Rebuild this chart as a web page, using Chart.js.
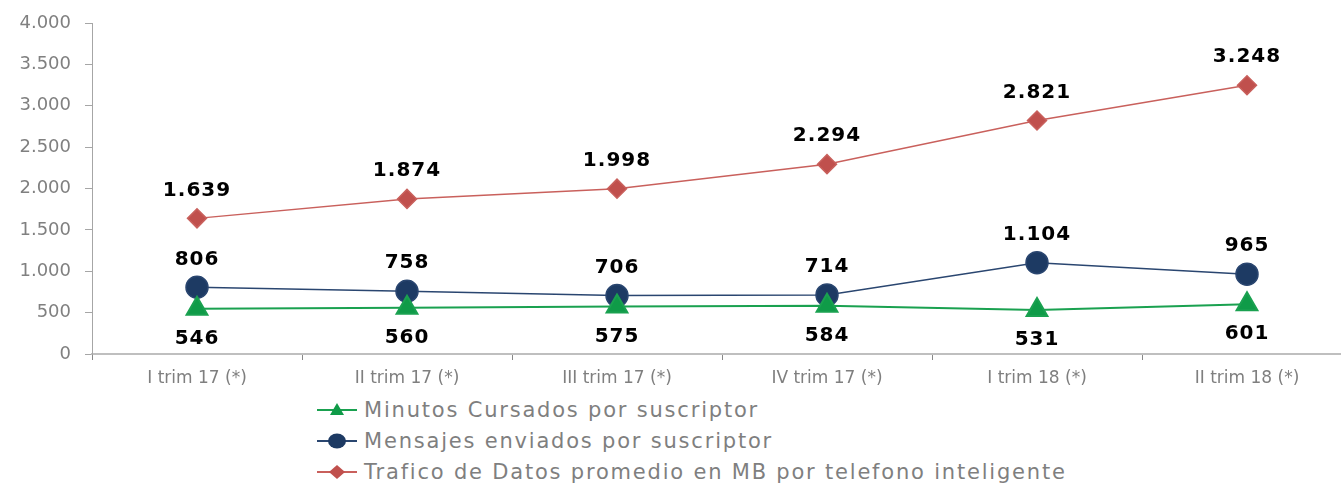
<!DOCTYPE html>
<html>
<head>
<meta charset="utf-8">
<script src="https://cdn.jsdelivr.net/npm/chart.js@4.4.1/dist/chart.umd.min.js"></script>
<style>
    html, body { margin: 0; padding: 0; background: #fff; overflow: hidden; }
    #wrap { position: relative; width: 1366px; height: 484px; }
    #lineChart { position: absolute; left: 0; top: 0; }
    #legend { position: absolute; left: 317px; top: 394px; font-family: "DejaVu Sans", sans-serif; font-size: 21px; letter-spacing: 1.8px; color: #7f7f7f; }
    #legend .item { display: flex; align-items: center; height: 31px; }
    #legend svg { margin-right: 5px; }
</style>
</head>
<body>
<div id="wrap">
    <canvas id="lineChart" width="1366" height="392"></canvas>
    <div id="legend"></div>
</div>
<script>
const categories = ['I trim 17 (*)', 'II trim 17 (*)', 'III trim 17 (*)', 'IV trim 17 (*)', 'I trim 18 (*)', 'II trim 18 (*)'];
const minutos = [546, 560, 575, 584, 531, 601];
const mensajes = [806, 758, 706, 714, 1104, 965];
const trafico = [1639, 1874, 1998, 2294, 2821, 3248];
const yTicks = [0, 500, 1000, 1500, 2000, 2500, 3000, 3500, 4000];

const seriesNames = [
    'Minutos Cursados por suscriptor',
    'Mensajes enviados por suscriptor',
    'Trafico de Datos promedio en MB por telefono inteligente'
];

function fmt(n) {
    return String(n).replace(/\B(?=(\d{3})+(?!\d))/g, '.');
}

// value labels: above or below each point
const valueLabels = {
    id: 'valueLabels',
    afterDatasetsDraw(chart) {
        const ctx = chart.ctx;
        ctx.save();
        ctx.font = 'bold 20px "DejaVu Sans", sans-serif';
        ctx.letterSpacing = '1px';
        ctx.fillStyle = '#000';
        ctx.textAlign = 'center';
        ctx.textBaseline = 'middle';
        chart.data.datasets.forEach((ds, i) => {
            const meta = chart.getDatasetMeta(i);
            meta.data.forEach((pt, j) => {
                const dy = ds.labelPos === 'below' ? 30 : -28;
                ctx.fillText(fmt(ds.data[j]), pt.x, pt.y + dy);
            });
        });
        ctx.restore();
    }
};

const ctx = document.getElementById('lineChart').getContext('2d');
new Chart(ctx, {
    type: 'line',
    data: {
        labels: categories,
        datasets: [
            {
                label: seriesNames[0],
                data: minutos,
                borderColor: '#1aa150',
                backgroundColor: '#0f9b48',
                borderWidth: 2,
                pointStyle: 'triangle',
                pointRadius: 12,
                labelPos: 'below'
            },
            {
                label: seriesNames[1],
                data: mensajes,
                borderColor: '#2a4670',
                backgroundColor: '#1d3a63',
                borderWidth: 1.5,
                pointStyle: 'circle',
                pointRadius: 11,
                labelPos: 'above'
            },
            {
                label: seriesNames[2],
                data: trafico,
                borderColor: '#c9605c',
                backgroundColor: '#c0504d',
                borderWidth: 1.5,
                pointStyle: 'rectRot',
                pointRadius: 9.5,
                labelPos: 'above'
            }
        ]
    },
    options: {
        responsive: false,
        animation: false,
        layout: { padding: { top: 17, right: 0, left: 0, bottom: 0 } },
        plugins: {
            legend: { display: false },
            tooltip: { enabled: false }
        },
        scales: {
            x: {
                offset: true,
                afterFit(scale) { scale.height = 38; },
                border: { color: '#bfbfbf', width: 2 },
                grid: { offset: true, drawOnChartArea: false, tickLength: 6, color: '#888' },
                ticks: {
                    color: '#7f7f7f',
                    padding: 8,
                    font: { family: '"DejaVu Sans", sans-serif', size: 17 }
                }
            },
            y: {
                min: 0,
                max: 4000,
                afterFit(scale) { scale.width = 92; },
                afterBuildTicks(scale) { scale.ticks = yTicks.map(v => ({ value: v })); },
                border: { color: '#a6a6a6', width: 1 },
                grid: { drawOnChartArea: false, tickLength: 7, color: '#a6a6a6' },
                ticks: {
                    color: '#808080',
                    padding: 14,
                    font: { family: '"DejaVu Sans", sans-serif', size: 18, lineHeight: 1 },
                    callback: v => fmt(v)
                }
            }
        }
    },
    plugins: [valueLabels]
});

// html legend with line + marker icons
const icons = [
    '<polygon points="20,4 27,16 13,16" fill="#0f9b48"/>',
    '<ellipse cx="20" cy="11" rx="9" ry="7.5" fill="#1d3a63"/>',
    '<polygon points="20,4 28,11 20,18 12,11" fill="#c0504d"/>'
];
const lineColors = ['#1aa150', '#2a4670', '#c9605c'];
document.getElementById('legend').innerHTML = seriesNames.map((name, i) => `
    <div class="item">
        <svg width="42" height="22"><line x1="0" y1="11" x2="40" y2="11" stroke="${lineColors[i]}" stroke-width="2"/>${icons[i]}</svg>
        <span>${name}</span>
    </div>
`).join('');
</script>
</body>
</html>
